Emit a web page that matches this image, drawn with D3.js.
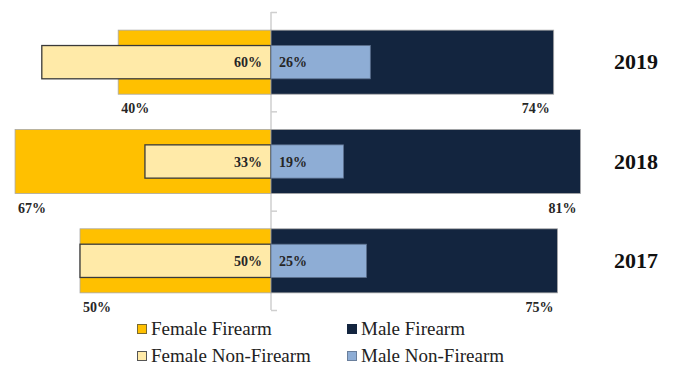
<!DOCTYPE html>
<html><head><meta charset="utf-8">
<script src="https://cdn.jsdelivr.net/npm/d3@7"></script>
<style>body{margin:0;background:#fff}svg{display:block}
svg text{font-family:"Liberation Serif","Times New Roman","DejaVu Serif",serif;}</style>
</head><body>
<script>
const years = ["2019", "2018", "2017"];
const femaleFirearm = [40, 67, 50];
const femaleNonFirearm = [60, 33, 50];
const maleFirearm = [74, 81, 75];
const maleNonFirearm = [26, 19, 25];
const legendLabels = ["Female Firearm", "Male Firearm", "Female Non-Firearm", "Male Non-Firearm"];

const W = 678, H = 366;
const colors = {ff: "#FFC000", mf: "#13253F", fn: "#FFEAA8", mn: "#8EADD5"};
const svg = d3.select("body").append("svg").attr("width", W).attr("height", H);

const x = d3.scaleLinear().domain([-70, 85]).range([271 - 70 * 3.82, 271 + 85 * 3.82]);
const y = d3.scaleBand().domain(years).range([12, 310]).padding(0);
const outerH = y.bandwidth() * 0.645, innerH = y.bandwidth() * 0.335;

// center axis
const axis = d3.axisRight(d3.scalePoint().domain(["a","b","c","d"]).range([12, 310])).tickSize(6).tickFormat("");
const ag = svg.append("g").attr("transform", `translate(${x(0)},0)`).call(axis);
ag.selectAll("path,line").attr("stroke", "#cfcfcf").attr("stroke-width", 1.5);
ag.select("path").attr("d", "M0,12V310");

const g = svg.append("g");
function label(xp, yp, anchor, txt, size, fill) {
  g.append("text").attr("x", xp).attr("y", yp).attr("text-anchor", anchor)
    .attr("font-weight", "bold").attr("font-size", size).attr("fill", fill).text(txt);
}
years.forEach((yr, i) => {
  const c = y(yr) + y.bandwidth() / 2 + 0.5;
  g.append("rect").attr("x", x(-femaleFirearm[i])).attr("y", c - outerH / 2)
    .attr("width", x(0) - x(-femaleFirearm[i])).attr("height", outerH)
    .attr("fill", colors.ff).attr("stroke", "#a8a8a8").attr("stroke-width", 0.8);
  g.append("rect").attr("x", x(0)).attr("y", c - outerH / 2)
    .attr("width", x(maleFirearm[i]) - x(0)).attr("height", outerH)
    .attr("fill", colors.mf).attr("stroke", "#a8a8a8").attr("stroke-width", 0.8);
  g.append("rect").attr("x", x(-femaleNonFirearm[i])).attr("y", c - innerH / 2)
    .attr("width", x(0) - x(-femaleNonFirearm[i])).attr("height", innerH)
    .attr("fill", colors.fn).attr("stroke", "#3a3a3a").attr("stroke-width", 1.3);
  g.append("rect").attr("x", x(0)).attr("y", c - innerH / 2)
    .attr("width", x(maleNonFirearm[i]) - x(0)).attr("height", innerH)
    .attr("fill", colors.mn).attr("stroke", "#5c6f8c").attr("stroke-width", 0.8);
  label(x(0) - 9, c + 5, "end", femaleNonFirearm[i] + "%", 14, "#262626");
  label(x(0) + 8, c + 5, "start", maleNonFirearm[i] + "%", 14, "#262626");
  const by = c + outerH / 2 + 19;
  label(x(-femaleFirearm[i]) + 3, by, "start", femaleFirearm[i] + "%", 14, "#262626");
  label(x(maleFirearm[i]) - 4, by, "end", maleFirearm[i] + "%", 14, "#262626");
  label(636, c + 7, "middle", yr, 22, "#111");
});

// legend
const legendItems = [
  {label: legendLabels[0], color: colors.ff, stroke: "#7a6a30", x: 137, y: 324},
  {label: legendLabels[1], color: colors.mf, stroke: "#13253F", x: 347, y: 324},
  {label: legendLabels[2], color: colors.fn, stroke: "#555", x: 137, y: 351},
  {label: legendLabels[3], color: colors.mn, stroke: "#6a7f9c", x: 347, y: 351}
];
const lg = svg.append("g");
legendItems.forEach(d => {
  lg.append("rect").attr("x", d.x + 0.5).attr("y", d.y + 0.5).attr("width", 9).attr("height", 9)
    .attr("fill", d.color).attr("stroke", d.stroke).attr("stroke-width", 1);
  lg.append("text").attr("x", d.x + 14).attr("y", d.y + 11)
    .attr("font-size", 19).attr("fill", "#222").text(d.label);
});
</script>
</body></html>
